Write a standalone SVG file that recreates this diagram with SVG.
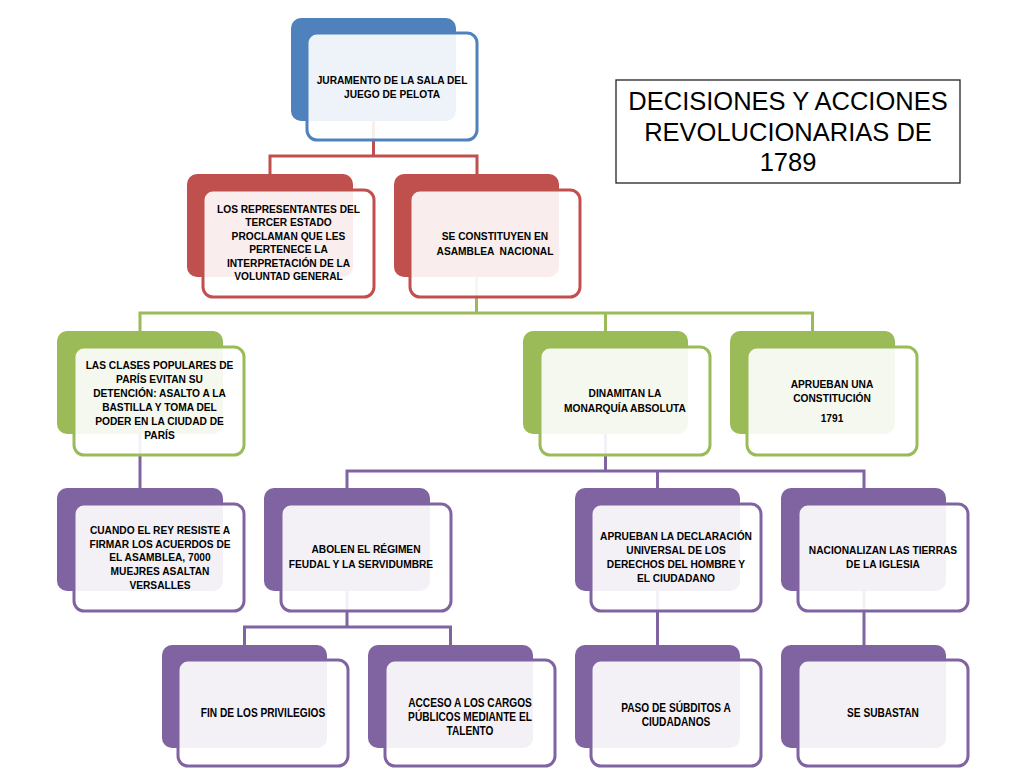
<svg xmlns="http://www.w3.org/2000/svg" width="1024" height="768" viewBox="0 0 1024 768">
<style>
.back{stroke:none}
.front{fill:#fff;fill-opacity:0.9;stroke-width:3}
.blue .back{fill:#4f81bd}.blue .front{stroke:#4f81bd}
.red .back{fill:#c0504d}.red .front{stroke:#c0504d}
.green .back{fill:#9bbb59}.green .front{stroke:#9bbb59}
.purple .back{fill:#8064a2}.purple .front{stroke:#8064a2}
.t{font-family:"Liberation Sans",Arial,sans-serif;font-weight:bold;font-size:10.2px;text-anchor:middle;fill:#000}
.tb{font-family:"Liberation Sans",Arial,sans-serif;font-weight:bold;font-size:13px;text-anchor:middle;fill:#000}
.c{fill:none;stroke-width:3}
.title{font-family:"Liberation Sans",Arial,sans-serif;font-size:25.5px;text-anchor:middle;fill:#000}
</style>
<rect width="1024" height="768" fill="#fff"/>
<g id="connectors">
<path class="c" stroke="#c0504d" d="M373.5 121V156M270 174V156H477V174"/>
<path class="c" stroke="#9bbb59" d="M476.5 277V313M140 331V313H812.5V331M605.5 313V331"/>
<path class="c" stroke="#8064a2" d="M140 434V488"/>
<path class="c" stroke="#8064a2" d="M605.5 434V471M347 488V471H864V488M657.5 471V488"/>
<path class="c" stroke="#8064a2" d="M347 591V627M244.5 645V627H450.5V645"/>
<path class="c" stroke="#8064a2" d="M657.5 591V645"/>
<path class="c" stroke="#8064a2" d="M864 591V645"/>
</g>
<g id="title">
<rect x="616" y="80" width="344" height="103" fill="#fff" stroke="#222" stroke-width="1.3"/>
<text class="title" x="788" y="110">DECISIONES Y ACCIONES</text>
<text class="title" x="788" y="140.5">REVOLUCIONARIAS DE</text>
<text class="title" x="788" y="171">1789</text>
</g>
<g id="n1" class="blue">
<rect class="back" x="291" y="18" width="165" height="103" rx="10"/>
<rect class="front" x="307" y="33" width="170" height="107" rx="10"/>
<text class="t" x="392" y="84">JURAMENTO DE LA SALA DEL</text>
<text class="t" x="392" y="98">JUEGO DE PELOTA</text>
</g>
<g id="n2" class="red">
<rect class="back" x="187" y="174" width="166" height="103" rx="10"/>
<rect class="front" x="203" y="190" width="171" height="107" rx="10"/>
<text class="t" x="288.5" y="213">LOS REPRESENTANTES DEL</text>
<text class="t" x="288.5" y="226.4">TERCER ESTADO</text>
<text class="t" x="288.5" y="239.8">PROCLAMAN QUE LES</text>
<text class="t" x="288.5" y="253.2">PERTENECE LA</text>
<text class="t" x="288.5" y="266.6">INTERPRETACIÓN DE LA</text>
<text class="t" x="288.5" y="280">VOLUNTAD GENERAL</text>
</g>
<g id="n3" class="red">
<rect class="back" x="394" y="174" width="165" height="103" rx="10"/>
<rect class="front" x="410" y="190" width="170" height="107" rx="10"/>
<text class="t" x="495" y="240">SE CONSTITUYEN EN</text>
<text class="t" x="495" y="254.5" xml:space="preserve">ASAMBLEA  NACIONAL</text>
</g>
<g id="n4" class="green">
<rect class="back" x="57" y="331" width="166" height="103" rx="10"/>
<rect class="front" x="74" y="347" width="170" height="108" rx="10"/>
<text class="t" x="159.5" y="369.3">LAS CLASES POPULARES DE</text>
<text class="t" x="159.5" y="383.3">PARÍS EVITAN SU</text>
<text class="t" x="159.5" y="397.3">DETENCIÓN: ASALTO A LA</text>
<text class="t" x="159.5" y="411.2">BASTILLA Y TOMA DEL</text>
<text class="t" x="159.5" y="425.1">PODER EN LA CIUDAD DE</text>
<text class="t" x="159.5" y="439">PARÍS</text>
</g>
<g id="n5" class="green">
<rect class="back" x="523" y="331" width="165" height="103" rx="10"/>
<rect class="front" x="540" y="347" width="170" height="108" rx="10"/>
<text class="t" x="625" y="397.3">DINAMITAN LA</text>
<text class="t" x="625" y="411.8">MONARQUÍA ABSOLUTA</text>
</g>
<g id="n6" class="green">
<rect class="back" x="730" y="331" width="165" height="103" rx="10"/>
<rect class="front" x="747" y="347" width="170" height="108" rx="10"/>
<text class="t" x="832" y="387.6">APRUEBAN UNA</text>
<text class="t" x="832" y="402">CONSTITUCIÓN</text>
<text class="t" x="832" y="421.7">1791</text>
</g>
<g id="n7" class="purple">
<rect class="back" x="57" y="488" width="166" height="103" rx="10"/>
<rect class="front" x="74" y="504" width="170" height="107" rx="10"/>
<text class="t" x="160" y="534">CUANDO EL REY RESISTE A</text>
<text class="t" x="160" y="547.7">FIRMAR LOS ACUERDOS DE</text>
<text class="t" x="160" y="561.4">EL ASAMBLEA, 7000</text>
<text class="t" x="160" y="575.1">MUEJRES ASALTAN</text>
<text class="t" x="160" y="588.8">VERSALLES</text>
</g>
<g id="n8" class="purple">
<rect class="back" x="264" y="488" width="166" height="103" rx="10"/>
<rect class="front" x="281" y="504" width="170" height="107" rx="10"/>
<text class="t" x="366" y="553.3">ABOLEN EL RÉGIMEN</text>
<text class="t" x="361" y="568">FEUDAL Y LA SERVIDUMBRE</text>
</g>
<g id="n9" class="purple">
<rect class="back" x="575" y="488" width="165" height="103" rx="10"/>
<rect class="front" x="591" y="504" width="170" height="107" rx="10"/>
<text class="t" x="676" y="540">APRUEBAN LA DECLARACIÓN</text>
<text class="t" x="676" y="554.1">UNIVERSAL DE LOS</text>
<text class="t" x="676" y="568.2">DERECHOS DEL HOMBRE Y</text>
<text class="t" x="676" y="582.2">EL CIUDADANO</text>
</g>
<g id="n10" class="purple">
<rect class="back" x="781" y="488" width="165" height="103" rx="10"/>
<rect class="front" x="798" y="504" width="170" height="107" rx="10"/>
<text class="t" x="883" y="553.7">NACIONALIZAN LAS TIERRAS</text>
<text class="t" x="883" y="568">DE LA IGLESIA</text>
</g>
<g id="n11" class="purple">
<rect class="back" x="162" y="645" width="165" height="103" rx="10"/>
<rect class="front" x="178" y="660" width="170" height="106" rx="10"/>
<g transform="translate(263 0) scale(0.78 1)">
<text class="tb" x="0" y="717">FIN DE LOS PRIVILEGIOS</text>
</g>
</g>
<g id="n12" class="purple">
<rect class="back" x="368" y="645" width="165" height="103" rx="10"/>
<rect class="front" x="385" y="660" width="170" height="106" rx="10"/>
<g transform="translate(470 0) scale(0.78 1)">
<text class="tb" x="0" y="706.7">ACCESO A LOS CARGOS</text>
<text class="tb" x="0" y="721">PÚBLICOS MEDIANTE EL</text>
<text class="tb" x="0" y="735.3">TALENTO</text>
</g>
</g>
<g id="n13" class="purple">
<rect class="back" x="575" y="645" width="165" height="103" rx="10"/>
<rect class="front" x="591" y="660" width="170" height="106" rx="10"/>
<g transform="translate(676 0) scale(0.78 1)">
<text class="tb" x="0" y="711.7">PASO DE SÚBDITOS A</text>
<text class="tb" x="0" y="725.7">CIUDADANOS</text>
</g>
</g>
<g id="n14" class="purple">
<rect class="back" x="781" y="645" width="165" height="103" rx="10"/>
<rect class="front" x="798" y="660" width="170" height="106" rx="10"/>
<g transform="translate(883 0) scale(0.78 1)">
<text class="tb" x="0" y="717.3">SE SUBASTAN</text>
</g>
</g>
</svg>
